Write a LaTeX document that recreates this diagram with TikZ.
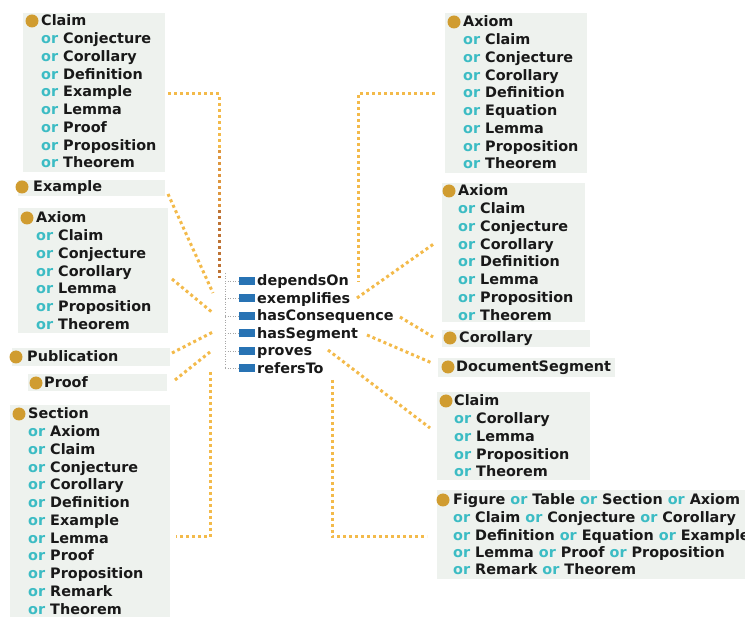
\documentclass[tikz,border=0pt]{standalone}
\usepackage{fontspec}
\setmainfont{DejaVu Sans}
\definecolor{boxc}{RGB}{238,242,238}
\definecolor{bulc}{RGB}{208,156,48}
\definecolor{orc}{RGB}{60,188,196}
\definecolor{txtc}{RGB}{25,25,25}
\definecolor{dotc}{RGB}{243,186,74}
\definecolor{dotd}{RGB}{222,150,62}
\definecolor{dote}{RGB}{190,115,52}
\definecolor{propc}{RGB}{40,115,180}
\newcommand\orw{\textcolor{orc}{or}\ }
\tikzset{
  box/.style={fill=boxc, draw=none, inner sep=0, anchor=north west},
  bul/.style={circle, fill=bulc, minimum size=13pt, inner sep=0},
  ln/.style={font=\fontsize{14.4}{17}\selectfont\bfseries, text=txtc, inner sep=0, anchor=base west},
  con/.style={draw=dotc, line width=3pt, dash pattern=on 3pt off 3pt},
  tree/.style={draw=gray!70, line width=0.6pt, dotted},
  prop/.style={fill=propc, minimum width=16pt, minimum height=8pt, inner sep=0},
}
\newcommand\mklines[5]{\foreach [count=\i from 0] \txt in {#5} {\node[ln] (#1\i) at (#2,{#3+5+#4*\i}) {\txt};}}
\begin{document}
\begin{tikzpicture}[x=1pt,y=-1pt]
\useasboundingbox (0,0) rectangle (745,617);
\clip (0,0) rectangle (745,617);
% ---------- left boxes
\node[box, minimum width=142pt, minimum height=159pt] (bA) at (23,13) {};
\node[bul] (uA) at (32,21) {};
\mklines{tA}{41}{21}{17.75}{Claim, \orw Conjecture, \orw Corollary, \orw Definition, \orw Example, \orw Lemma, \orw Proof, \orw Proposition, \orw Theorem}

\node[box, minimum width=147pt, minimum height=16pt] (bB) at (18,180) {};
\node[bul] (uB) at (22,187) {};
\mklines{tB}{33}{187}{17.75}{Example}

\node[box, minimum width=150pt, minimum height=125pt] (bC) at (18,208) {};
\node[bul] (uC) at (27,218) {};
\mklines{tC}{36}{218}{17.75}{Axiom, \orw Claim, \orw Conjecture, \orw Corollary, \orw Lemma, \orw Proposition, \orw Theorem}

\node[box, minimum width=158pt, minimum height=18pt] (bD) at (12,348) {};
\node[bul] (uD) at (16,357) {};
\mklines{tD}{27}{357}{17.75}{Publication}

\node[box, minimum width=139pt, minimum height=17pt] (bE) at (28,374) {};
\node[bul] (uE) at (36,383) {};
\mklines{tE}{44}{383}{17.75}{Proof}

\node[box, minimum width=160pt, minimum height=220pt] (bF) at (10,405) {};
\node[bul] (uF) at (19,414) {};
\mklines{tF}{28}{414}{17.75}{Section, \orw Axiom, \orw Claim, \orw Conjecture, \orw Corollary, \orw Definition, \orw Example, \orw Lemma, \orw Proof, \orw Proposition, \orw Remark, \orw Theorem}
% ---------- right boxes
\node[box, minimum width=142pt, minimum height=160pt] (bG) at (445,13) {};
\node[bul] (uG) at (454,22) {};
\mklines{tG}{463}{22}{17.75}{Axiom, \orw Claim, \orw Conjecture, \orw Corollary, \orw Definition, \orw Equation, \orw Lemma, \orw Proposition, \orw Theorem}

\node[box, minimum width=143pt, minimum height=139pt] (bH) at (442,183) {};
\node[bul] (uH) at (449,191) {};
\mklines{tH}{458}{191}{17.75}{Axiom, \orw Claim, \orw Conjecture, \orw Corollary, \orw Definition, \orw Lemma, \orw Proposition, \orw Theorem}

\node[box, minimum width=148pt, minimum height=17pt] (bI) at (442,330) {};
\node[bul] (uI) at (450,338) {};
\mklines{tI}{459}{338}{17.75}{Corollary}

\node[box, minimum width=177pt, minimum height=19pt] (bJ) at (438,358) {};
\node[bul] (uJ) at (448,367) {};
\mklines{tJ}{456}{367}{17.75}{DocumentSegment}

\node[box, minimum width=153pt, minimum height=88pt] (bK) at (437,392) {};
\node[bul] (uK) at (446,401) {};
\mklines{tK}{454}{401}{17.75}{Claim, \orw Corollary, \orw Lemma, \orw Proposition, \orw Theorem}

\node[box, minimum width=330pt, minimum height=89pt] (bL) at (437,490) {};
\node[bul] (uL) at (443,500) {};
\mklines{tL}{453}{500}{17.5}{Figure \orw Table \orw Section \orw Axiom, \orw Claim \orw Conjecture \orw Corollary, \orw Definition \orw Equation \orw Example, \orw Lemma \orw Proof \orw Proposition, \orw Remark \orw Theorem}
% ---------- property tree
\coordinate (tr0) at (225,273);
\coordinate (tr1) at (225,368.5);
\draw[tree] (tr0) -- (tr1);
\foreach [count=\i from 0] \nm in {dependsOn, exemplifies, hasConsequence, hasSegment, proves, refersTo} {
  \node[prop] (r\i) at (247,{281+17.5*\i}) {};
  \node[ln] (p\i) at (257,{286+17.5*\i}) {\nm};
  \draw[tree] (tr0 |- r\i.west) -- (r\i.west);
}
% ---------- connectors
\coordinate (a1) at (168,94); \coordinate (a2) at (219,94);
\coordinate (a3) at (219,150); \coordinate (a4) at (219,210); \coordinate (a5) at (219,278);
\draw[con] (a1) -- (a2) -- (a3);
\draw[con, draw=dotd] (a3) -- (a4);
\draw[con, draw=dote] (a4) -- (a5);

\coordinate (b1) at (435,94); \coordinate (b2) at (358,94); \coordinate (b3) at (358,282);
\draw[con] (b1) -- (b2) -- (b3);

\coordinate (c1) at (168,194); \coordinate (c2) at (213,293);
\draw[con] (c1) -- (c2);
\coordinate (d1) at (172,279); \coordinate (d2) at (213,313);
\draw[con] (d1) -- (d2);
\coordinate (e1) at (172,353); \coordinate (e2) at (213,332);
\draw[con] (e1) -- (e2);
\coordinate (f1) at (175,380); \coordinate (f2) at (210,352);
\draw[con] (f1) -- (f2);
\coordinate (g1) at (210,372); \coordinate (g2) at (210,537); \coordinate (g3) at (176,537);
\draw[con] (g1) -- (g2) -- (g3);

\coordinate (h1) at (357,298); \coordinate (h2) at (435,243);
\draw[con] (h1) -- (h2);
\coordinate (i1) at (400,317); \coordinate (i2) at (433,337);
\draw[con] (i1) -- (i2);
\coordinate (j1) at (367,335); \coordinate (j2) at (432,363);
\draw[con] (j1) -- (j2);
\coordinate (k1) at (328,350); \coordinate (k2) at (430,428);
\draw[con] (k1) -- (k2);
\coordinate (l1) at (332,380); \coordinate (l2) at (332,537); \coordinate (l3) at (427,537);
\draw[con] (l1) -- (l2) -- (l3);
\end{tikzpicture}
\end{document}
